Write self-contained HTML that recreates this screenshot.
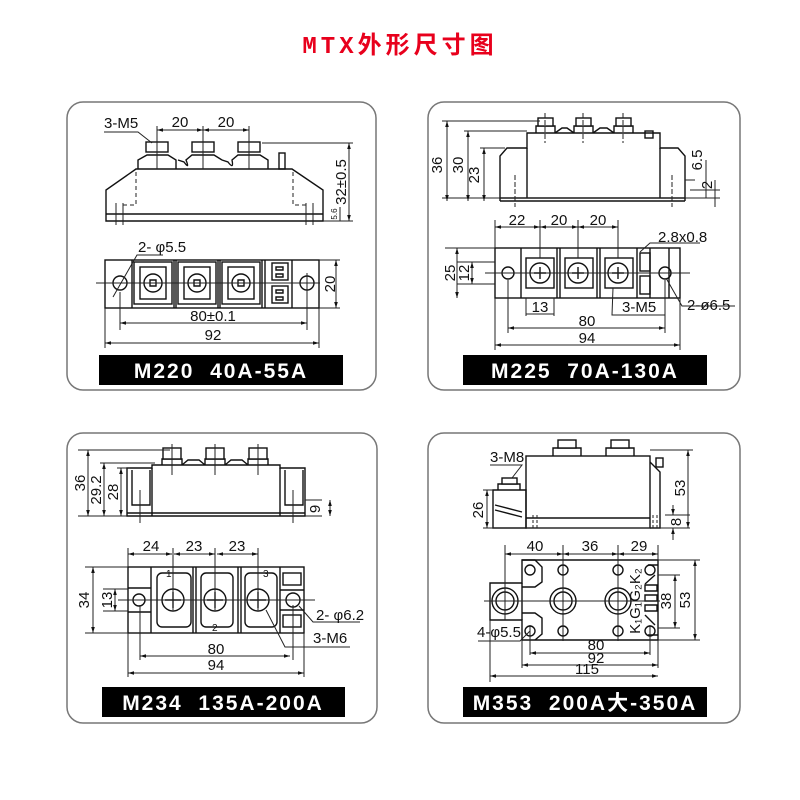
<!DOCTYPE html>
<html><head><meta charset="utf-8"><style>
body{margin:0;background:#fff;width:800px;height:800px;overflow:hidden}
svg{display:block}
text{font-family:"Liberation Sans","Noto Sans CJK SC",sans-serif;fill:#111}
.d{stroke:#222;stroke-width:1;fill:none}
.s{stroke:#111;stroke-width:1.4;fill:none}
.f{stroke:#111;stroke-width:1.4;fill:#fff}
.t{font-size:15px}
.lb{font-size:21px;font-weight:bold;fill:#fff;letter-spacing:2px;white-space:pre}
</style></head><body>
<svg width="800" height="800" viewBox="0 0 800 800" xmlns="http://www.w3.org/2000/svg" xml:space="preserve">
<defs>
<marker id="a" viewBox="0 0 10 10" refX="10" refY="5" markerWidth="6" markerHeight="6" orient="auto-start-reverse"><path d="M0,2L10,5L0,8z" fill="#111"/></marker>
</defs>
<text x="400" y="53" text-anchor="middle" style="font-size:24px;fill:#e8001c;letter-spacing:4px;font-family:'Liberation Mono','Noto Sans CJK SC',sans-serif;font-weight:bold">MTX外形尺寸图</text>

<g fill="none" stroke="#777" stroke-width="1.5">
<rect x="67" y="102" width="309" height="288" rx="16"/>
<rect x="428" y="102" width="312" height="288" rx="16"/>
<rect x="67" y="433" width="310" height="290" rx="16"/>
<rect x="428" y="433" width="312" height="290" rx="16"/>
</g>
<rect x="99" y="355" width="244" height="30" fill="#000"/>
<text x="221" y="378" text-anchor="middle" class="lb">M220  40A-55A</text>
<rect x="463" y="355" width="244" height="30" fill="#000"/>
<text x="585" y="378" text-anchor="middle" class="lb">M225  70A-130A</text>
<rect x="102" y="687" width="243" height="30" fill="#000"/>
<text x="223" y="710" text-anchor="middle" class="lb">M234  135A-200A</text>
<rect x="463" y="687" width="244" height="30" fill="#000"/>
<text x="585" y="710" text-anchor="middle" class="lb">M353  200A大-350A</text>

<!-- ===== Panel 1 ===== -->
<g>
<path class="s" d="M136,169 L292,169 L323,190 L323,221 L106,221 L106,190 Z"/>
<line class="s" x1="106" y1="214" x2="323" y2="214"/>
<path class="s" d="M138,169 V160 L147,155 H168 L176,160 V169 M178,160 L184,162 Q190,170 186,160 L192,155 H214 L222,160 M222,160 L228,162 Q234,170 232,160 L238,155 H260 L268,160 V169"/>
<rect class="f" x="146" y="142" width="22" height="10"/><rect class="f" x="192" y="142" width="22" height="10"/><rect class="f" x="238" y="142" width="22" height="10"/>
<rect class="s" x="279" y="153" width="6" height="16"/>
<path class="d" stroke-dasharray="4,3" d="M136,172V205H122 M293,172V205H306"/>
<path class="d" d="M116,203V225 M123,203V225 M306,203V225 M313,203V225"/>
<path class="d" d="M157,126V169 M203,126V169 M249,126V169"/>
<line class="d" x1="157" y1="130" x2="203" y2="130" marker-start="url(#a)" marker-end="url(#a)"/>
<line class="d" x1="203" y1="130" x2="249" y2="130" marker-start="url(#a)" marker-end="url(#a)"/>
<text x="180" y="127" text-anchor="middle" class="t">20</text><text x="226" y="127" text-anchor="middle" class="t">20</text>
<text x="104" y="128" class="t">3-M5</text><path class="d" d="M104,132H138L152,143"/>
<path class="d" d="M262,143H353 M323,221H353"/>
<line class="d" x1="349" y1="143" x2="349" y2="221" marker-start="url(#a)" marker-end="url(#a)"/>
<text transform="translate(346,182) rotate(-90)" text-anchor="middle" class="t">32±0.5</text>
<text transform="translate(337,214) rotate(-90)" text-anchor="middle" style="font-size:8px">5.6</text>
<line class="d" x1="340" y1="207" x2="340" y2="221"/>

<rect class="s" x="105" y="260" width="214" height="48"/>
<path class="s" d="M132,260V308 M174,260V308 M176,260V308 M218,260V308 M220,260V308 M262,260V308 M265,260V308 M292,260V308"/>
<rect class="s" x="134" y="262" width="38" height="42"/><rect class="s" x="140" y="267" width="26" height="32"/>
<rect class="s" x="178" y="262" width="38" height="42"/><rect class="s" x="184" y="267" width="26" height="32"/>
<rect class="s" x="222" y="262" width="38" height="42"/><rect class="s" x="228" y="267" width="26" height="32"/>
<circle class="s" cx="153" cy="283" r="9"/><circle class="s" cx="197" cy="283" r="9"/><circle class="s" cx="241" cy="283" r="9"/>
<path class="s" d="M150,280h6v6h-6z M194,280h6v6h-6z M238,280h6v6h-6z"/>
<rect class="s" x="272" y="263" width="16" height="17"/><rect class="s" x="272" y="286" width="16" height="17"/>
<path class="s" d="M276,267h7v3h-7z M276,274h7v3h-7z M276,290h7v3h-7z M276,297h7v3h-7z"/>
<circle class="s" cx="120" cy="283" r="7"/><circle class="s" cx="307" cy="283" r="7"/>
<line class="d" x1="96" y1="283" x2="320" y2="283"/>
<path class="d" d="M113,297L137,255H163 M120,292V330 M307,273V330 M105,308V348 M319,308V348 M319,260H340 M319,308H340"/>
<text x="138" y="252" class="t">2- φ5.5</text>
<line class="d" x1="336" y1="260" x2="336" y2="308" marker-start="url(#a)" marker-end="url(#a)"/>
<text transform="translate(335,284) rotate(-90)" text-anchor="middle" class="t">20</text>
<line class="d" x1="120" y1="323" x2="307" y2="323" marker-start="url(#a)" marker-end="url(#a)"/>
<text x="213" y="321" text-anchor="middle" class="t">80±0.1</text>
<line class="d" x1="105" y1="343" x2="319" y2="343" marker-start="url(#a)" marker-end="url(#a)"/>
<text x="213" y="340" text-anchor="middle" class="t">92</text>
</g>

<!-- ===== Panel 2 ===== -->
<g>
<path class="s" d="M527,133H660V148H678L685,156V198H500V156L507,148H527Z"/>
<line class="s" x1="500" y1="201" x2="685" y2="201"/><path class="s" d="M500,198V201 M685,198V201 M527,148V198 M660,148V198"/>
<path class="s" d="M536,133V126H555V133 M574,133V126H593V133 M614,133V126H633V133 M555,133L562,128H567L574,133 M593,133L600,128H607L614,133"/>
<rect class="f" x="538" y="118" width="15" height="8"/><rect class="f" x="576" y="118" width="15" height="8"/><rect class="f" x="616" y="118" width="15" height="8"/>
<rect class="s" x="645" y="131" width="8" height="7"/>
<path class="d" d="M545,113V143 M583,113V143 M623,113V143 M515,175V207 M672,175V207" stroke-dasharray="5,2"/>
<path class="d" d="M442,121H540 M464,131H527 M480,148H505 M442,198H700 M690,190H720 M690,198H720 M685,180H695"/>
<line class="d" x1="447" y1="121" x2="447" y2="201" marker-start="url(#a)" marker-end="url(#a)"/>
<line class="d" x1="468" y1="131" x2="468" y2="201" marker-start="url(#a)" marker-end="url(#a)"/>
<line class="d" x1="484" y1="148" x2="484" y2="201" marker-start="url(#a)" marker-end="url(#a)"/>
<text transform="translate(442,165) rotate(-90)" text-anchor="middle" class="t">36</text>
<text transform="translate(463,165) rotate(-90)" text-anchor="middle" class="t">30</text>
<text transform="translate(479,175) rotate(-90)" text-anchor="middle" class="t">23</text>
<line class="d" x1="706" y1="160" x2="706" y2="198"/><line class="d" x1="715" y1="180" x2="715" y2="207"/>
<text transform="translate(702,160) rotate(-90)" text-anchor="middle" class="t">6.5</text>
<text transform="translate(712,185) rotate(-90)" text-anchor="middle" class="t">2</text>

<rect class="s" x="495" y="248" width="185" height="50"/>
<path class="s" d="M521,248V298 M557,248V298 M560,248V298 M597,248V298 M600,248V298 M637,248V298 M650,248V298 M669,248V298"/>
<rect class="s" x="526" y="258" width="28" height="30"/><rect class="s" x="565" y="258" width="28" height="30"/><rect class="s" x="605" y="258" width="28" height="30"/>
<circle class="s" cx="540" cy="273" r="10"/><circle class="s" cx="578" cy="273" r="10"/><circle class="s" cx="618" cy="273" r="10"/>
<path class="s" d="M534,273h12M540,267v12 M572,273h12M578,267v12 M612,273h12M618,267v12" stroke-width="2.5"/>
<rect class="s" x="640" y="253" width="10" height="18"/><rect class="s" x="640" y="276" width="10" height="18"/>
<circle class="s" cx="508" cy="273" r="6"/><circle class="s" cx="665" cy="273" r="6"/>
<path class="d" d="M485,273H690 M495,248V220 M540,220V258 M578,220V258 M618,220V258 M495,298V350 M680,298V350 M508,280V333 M665,280V333 M526,298V316 M554,298V316 M445,248H495 M457,262H495 M457,284H495 M640,252L650,243H700 M666,278L682,306H735 M613,288L612,315H665V305"/>
<line class="d" x1="495" y1="227" x2="540" y2="227" marker-start="url(#a)" marker-end="url(#a)"/>
<line class="d" x1="540" y1="227" x2="578" y2="227" marker-start="url(#a)" marker-end="url(#a)"/>
<line class="d" x1="578" y1="227" x2="618" y2="227" marker-start="url(#a)" marker-end="url(#a)"/>
<text x="517" y="225" text-anchor="middle" class="t">22</text><text x="559" y="225" text-anchor="middle" class="t">20</text><text x="598" y="225" text-anchor="middle" class="t">20</text>
<text x="658" y="242" class="t">2.8x0.8</text>
<line class="d" x1="457" y1="248" x2="457" y2="298" marker-start="url(#a)" marker-end="url(#a)"/>
<line class="d" x1="472" y1="262" x2="472" y2="284" marker-start="url(#a)" marker-end="url(#a)"/>
<text transform="translate(455,273) rotate(-90)" text-anchor="middle" class="t">25</text>
<text transform="translate(469,273) rotate(-90)" text-anchor="middle" class="t">12</text>
<line class="d" x1="526" y1="314" x2="554" y2="314"/>
<text x="540" y="312" text-anchor="middle" class="t">13</text>
<text x="622" y="312" class="t">3-M5</text>
<text x="687" y="310" class="t">2-ø6.5</text>
<line class="d" x1="508" y1="328" x2="665" y2="328" marker-start="url(#a)" marker-end="url(#a)"/>
<text x="587" y="326" text-anchor="middle" class="t">80</text>
<line class="d" x1="495" y1="345" x2="680" y2="345" marker-start="url(#a)" marker-end="url(#a)"/>
<text x="587" y="343" text-anchor="middle" class="t">94</text>
</g>

<!-- ===== Panel 3 ===== -->
<g>
<path class="s" d="M152,465H280V468H305V516H127V468H152Z"/>
<path class="s" d="M152,468V516 M280,468V516 M127,513H305 M132,470V505H150V470 M285,470V505H303V470"/>
<path class="s" d="M162,465V459H182V465 M205,465V459H225V465 M248,465V459H268V465 M182,465L188,460H199L205,465 M225,465L231,460H242L248,465"/>
<rect class="f" x="163" y="448" width="18" height="11"/><rect class="f" x="206" y="448" width="18" height="11"/><rect class="f" x="249" y="448" width="18" height="11"/>
<path class="d" d="M172,444V475 M215,444V475 M258,444V475 M140,490V523 M293,490V523"/>
<path class="d" d="M78,450H170 M100,463H155 M117,468H130 M78,516H127 M305,500H322 M305,516H322"/>
<line class="d" x1="88" y1="450" x2="88" y2="516" marker-start="url(#a)" marker-end="url(#a)"/>
<line class="d" x1="104" y1="463" x2="104" y2="516" marker-start="url(#a)" marker-end="url(#a)"/>
<line class="d" x1="121" y1="468" x2="121" y2="516" marker-start="url(#a)" marker-end="url(#a)"/>
<text transform="translate(85,483) rotate(-90)" text-anchor="middle" class="t">36</text>
<text transform="translate(101,490) rotate(-90)" text-anchor="middle" class="t">29.2</text>
<text transform="translate(118,492) rotate(-90)" text-anchor="middle" class="t">28</text>
<line class="d" x1="330" y1="500" x2="330" y2="516" marker-start="url(#a)" marker-end="url(#a)"/>
<text transform="translate(320,509) rotate(-90)" text-anchor="middle" class="t">9</text>

<rect class="s" x="128" y="567" width="176" height="66" stroke-width="2"/>
<path class="s" d="M151,567V633 M193,567V633 M196,567V633 M238,567V633 M241,567V633 M280,567V633 M128,588H151 M128,612H151 M280,590H304 M280,610H304"/>
<rect class="s" x="157" y="573" width="34" height="54" rx="5"/><rect class="s" x="201" y="573" width="32" height="54" rx="5"/><rect class="s" x="245" y="573" width="32" height="54" rx="5"/>
<circle class="s" cx="173" cy="600" r="11"/><circle class="s" cx="215" cy="600" r="11"/><circle class="s" cx="258" cy="600" r="11"/>
<path class="s" d="M165,600h16M173,592v16 M207,600h16M215,592v16 M250,600h16M258,592v16" stroke-width="3"/>
<circle class="s" cx="139" cy="600" r="6"/><circle class="s" cx="293" cy="600" r="7"/>
<rect class="s" x="283" y="573" width="18" height="12"/><rect class="s" x="283" y="615" width="18" height="12"/>
<text x="166" y="577" class="t" style="font-size:10px">1</text><text x="212" y="631" class="t" style="font-size:10px">2</text><text x="263" y="577" class="t" style="font-size:10px">3</text>
<path class="d" d="M118,600H315 M128,567V548 M173,548V610 M215,548V610 M258,548V610 M140,605V660 M293,605V660 M128,633V677 M304,633V677 M85,567H128 M85,633H128 M103,589H128 M103,611H128 M299,606L313,622H360 M266,610L285,647H350"/>
<line class="d" x1="128" y1="554" x2="172" y2="554" marker-start="url(#a)" marker-end="url(#a)"/>
<line class="d" x1="174" y1="554" x2="215" y2="554" marker-start="url(#a)" marker-end="url(#a)"/>
<line class="d" x1="217" y1="554" x2="258" y2="554" marker-start="url(#a)" marker-end="url(#a)"/>
<text x="151" y="551" text-anchor="middle" class="t">24</text><text x="194" y="551" text-anchor="middle" class="t">23</text><text x="237" y="551" text-anchor="middle" class="t">23</text>
<line class="d" x1="93" y1="567" x2="93" y2="633" marker-start="url(#a)" marker-end="url(#a)"/>
<line class="d" x1="115" y1="589" x2="115" y2="611" marker-start="url(#a)" marker-end="url(#a)"/>
<text transform="translate(89,600) rotate(-90)" text-anchor="middle" class="t">34</text>
<text transform="translate(112,600) rotate(-90)" text-anchor="middle" class="t">13</text>
<text x="316" y="620" class="t">2- φ6.2</text>
<text x="313" y="643" class="t">3-M6</text>
<line class="d" x1="140" y1="656" x2="290" y2="656" marker-start="url(#a)" marker-end="url(#a)"/>
<text x="216" y="654" text-anchor="middle" class="t">80</text>
<line class="d" x1="128" y1="673" x2="304" y2="673" marker-start="url(#a)" marker-end="url(#a)"/>
<text x="216" y="670" text-anchor="middle" class="t">94</text>
</g>

<!-- ===== Panel 4 ===== -->
<g>
<rect class="s" x="526" y="456" width="124" height="72"/>
<path class="s" d="M493,490H526V528H493Z M650,462L660,472V528H650 M526,518H650 M495,505L522,512 M495,510L522,517"/>
<path class="s" d="M553,456V448H581V456 M606,456V448H634V456 M498,490V484H520V490"/>
<rect class="f" x="558" y="440" width="18" height="8"/><rect class="f" x="611" y="440" width="18" height="8"/><rect class="f" x="502" y="478" width="15" height="6"/>
<rect class="s" x="656" y="458" width="7" height="9"/>
<path class="d" stroke-dasharray="3,2" d="M533,515V530 M537,515V530 M653,515V530 M657,515V530"/>
<text x="490" y="462" class="t">3-M8</text><path class="d" d="M490,465H522L512,478"/>
<path class="d" d="M483,490H493 M483,528H690 M650,450H693 M665,515H690"/>
<line class="d" x1="487" y1="490" x2="487" y2="528" marker-start="url(#a)" marker-end="url(#a)"/>
<text transform="translate(483,510) rotate(-90)" text-anchor="middle" class="t">26</text>
<line class="d" x1="688" y1="450" x2="688" y2="528" marker-start="url(#a)" marker-end="url(#a)"/>
<text transform="translate(685,488) rotate(-90)" text-anchor="middle" class="t">53</text>
<line class="d" x1="673" y1="505" x2="673" y2="515" marker-end="url(#a)"/><line class="d" x1="673" y1="540" x2="673" y2="528" marker-end="url(#a)"/>
<text transform="translate(681,522) rotate(-90)" text-anchor="middle" class="t">8</text>

<path class="s" d="M522,560H658V640H522V620H490V583H522Z"/>
<path class="s" d="M522,583V620 M522,560H535L542,567V582L535,587H522 M522,613H535L542,618V634L535,640 M658,565H648 M658,635H648 M645,584L655,575 M645,615L655,625"/>
<circle class="s" cx="505" cy="601" r="13"/><circle class="s" cx="505" cy="601" r="9"/>
<circle class="s" cx="563" cy="601" r="13"/><circle class="s" cx="563" cy="601" r="9"/>
<circle class="s" cx="618" cy="601" r="13"/><circle class="s" cx="618" cy="601" r="9"/>
<circle class="s" cx="563" cy="570" r="5"/><circle class="s" cx="618" cy="570" r="5"/><circle class="s" cx="563" cy="631" r="5"/><circle class="s" cx="618" cy="631" r="5"/>
<circle class="s" cx="530" cy="570" r="5"/><circle class="s" cx="650" cy="570" r="5"/><circle class="s" cx="530" cy="631" r="5"/><circle class="s" cx="650" cy="631" r="5"/>
<path class="s" d="M645,585h12v6h-12z M645,595h12v6h-12z M645,605h12v6h-12z"/>
<path class="d" d="M484,601H660 M505,545V620 M563,545V641 M618,545V641 M658,545V560 M530,625V655 M650,625V655 M522,640V668 M658,640V668 M490,620V682 M658,575H680 M658,628H680 M658,560H700 M658,640H700 M478,641H520L530,631"/>
<line class="d" x1="505" y1="554" x2="563" y2="554" marker-start="url(#a)" marker-end="url(#a)"/>
<line class="d" x1="563" y1="554" x2="618" y2="554" marker-start="url(#a)" marker-end="url(#a)"/>
<line class="d" x1="618" y1="554" x2="658" y2="554" marker-start="url(#a)" marker-end="url(#a)"/>
<text x="535" y="551" text-anchor="middle" class="t">40</text><text x="590" y="551" text-anchor="middle" class="t">36</text><text x="639" y="551" text-anchor="middle" class="t">29</text>
<line class="d" x1="675" y1="575" x2="675" y2="628" marker-start="url(#a)" marker-end="url(#a)"/>
<line class="d" x1="695" y1="560" x2="695" y2="640" marker-start="url(#a)" marker-end="url(#a)"/>
<text transform="translate(671,601) rotate(-90)" text-anchor="middle" class="t">38</text>
<text transform="translate(690,600) rotate(-90)" text-anchor="middle" class="t">53</text>
<text transform="translate(640,585) rotate(-90)" text-anchor="middle" class="t">G₂K₂</text>
<text transform="translate(640,618) rotate(-90)" text-anchor="middle" class="t">K₁G₁</text>
<text x="477" y="637" class="t">4-φ5.5</text>
<line class="d" x1="530" y1="653" x2="650" y2="653" marker-start="url(#a)" marker-end="url(#a)"/>
<text x="596" y="650" text-anchor="middle" class="t">80</text>
<line class="d" x1="522" y1="665" x2="658" y2="665" marker-start="url(#a)" marker-end="url(#a)"/>
<text x="596" y="663" text-anchor="middle" class="t">92</text>
<line class="d" x1="490" y1="676" x2="658" y2="676" marker-start="url(#a)" marker-end="url(#a)"/>
<text x="587" y="674" text-anchor="middle" class="t">115</text>
</g>
</svg>
</body></html>
